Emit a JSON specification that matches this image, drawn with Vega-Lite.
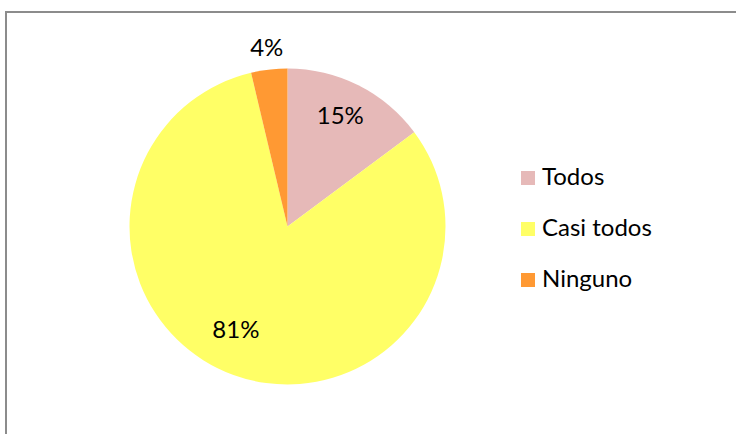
{
  "$schema": "https://vega.github.io/schema/vega-lite/v6.json",
  "autosize": {"type": "none"},
  "padding": {"left": 6, "top": 12, "right": 0, "bottom": 0},
  "width": 760,
  "height": 440,
  "background": "white",
  "view": {"stroke": "#8c8c8c", "strokeWidth": 2},
  "config": {"font": "Lato"},
  "data": {
    "values": [
      {"cat": "Todos", "n": 4, "label": "15%", "ord": 1},
      {"cat": "Casi todos", "n": 22, "label": "81%", "ord": 2},
      {"cat": "Ninguno", "n": 1, "label": "4%", "ord": 3}
    ]
  },
  "encoding": {
    "theta": {"field": "n", "type": "quantitative", "stack": true},
    "order": {"field": "ord", "type": "quantitative"}
  },
  "layer": [
    {
      "mark": {"type": "arc", "radius": 158, "x": 281.5, "y": 214.5},
      "encoding": {
        "color": {
          "field": "cat",
          "type": "nominal",
          "sort": ["Todos", "Casi todos", "Ninguno"],
          "scale": {"domain": ["Todos", "Casi todos", "Ninguno"], "range": ["#E6B9B8", "#FFFF66", "#FF9933"]},
          "legend": {
            "title": null,
            "orient": "none",
            "legendX": 510,
            "legendY": 154,
            "padding": 0,
            "symbolType": "square",
            "symbolSize": 196,
            "symbolStrokeWidth": 0,
            "symbolOpacity": 1,
            "labelFont": "Lato",
            "labelFontSize": 24,
            "labelColor": "black",
            "labelOffset": 2,
            "rowPadding": 27,
            "labelLimit": 300
          }
        }
      }
    },
    {
      "mark": {"type": "text", "radius": 122, "x": 281.5, "y": 214.5, "dx": -2, "fontSize": 24, "color": "black"},
      "encoding": {"text": {"condition": {"test": "datum.cat == 'Todos'", "field": "label"}, "value": ""}}
    },
    {
      "mark": {"type": "text", "radius": 116, "x": 281.5, "y": 214.5, "dx": -12, "dy": -5, "fontSize": 24, "color": "black"},
      "encoding": {"text": {"condition": {"test": "datum.cat == 'Casi todos'", "field": "label"}, "value": ""}}
    },
    {
      "mark": {"type": "text", "radius": 179, "x": 281.5, "y": 214.5, "fontSize": 24, "color": "black"},
      "encoding": {"text": {"condition": {"test": "datum.cat == 'Ninguno'", "field": "label"}, "value": ""}}
    }
  ]
}
